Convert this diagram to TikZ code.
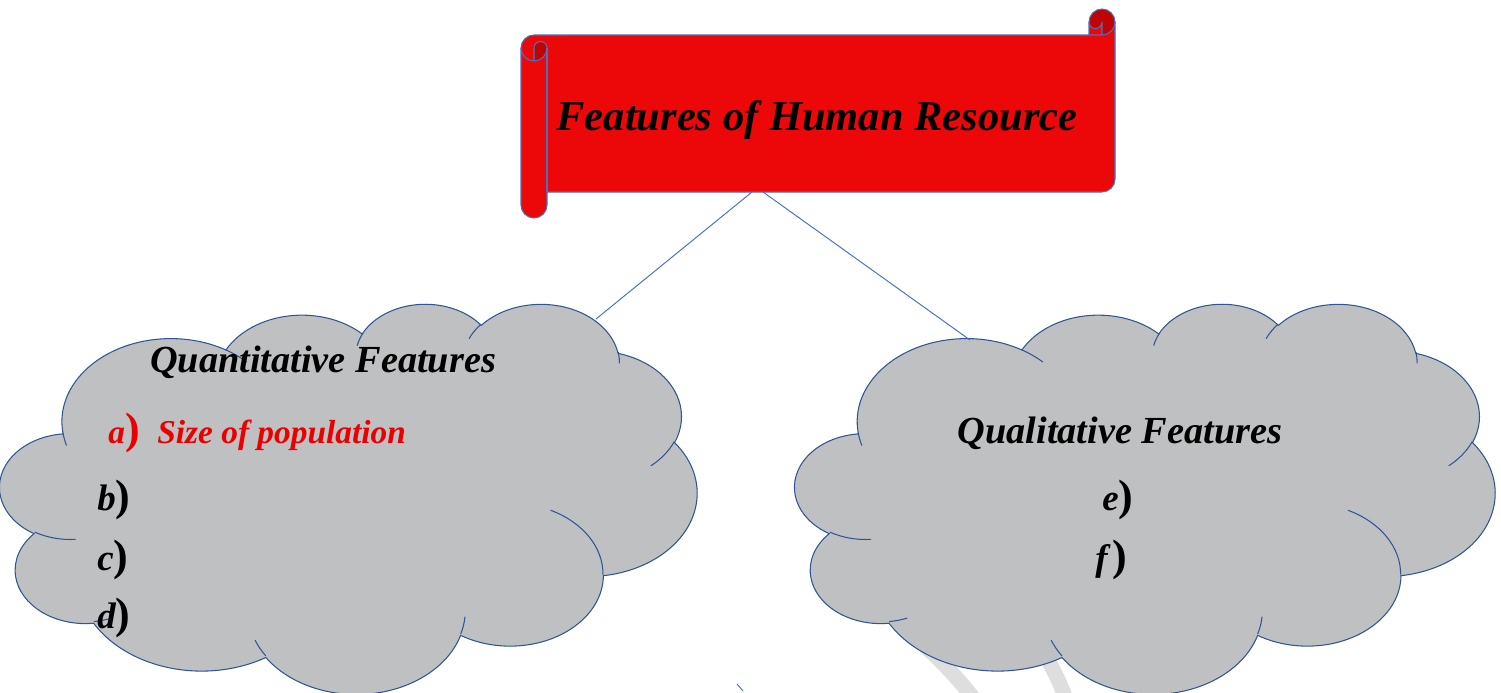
\documentclass[tikz,border=0pt]{standalone}
\usepackage{fontspec}
\setmainfont{Liberation Serif}
\usetikzlibrary{calc}
\definecolor{scrollred}{RGB}{236,8,8}
\definecolor{curlred}{RGB}{192,4,4}
\definecolor{edgeblue}{RGB}{68,114,196}
\definecolor{cloudblue}{RGB}{47,85,151}
\definecolor{cloudgray}{RGB}{191,192,194}
\definecolor{markgray}{RGB}{222,222,222}
\definecolor{itemred}{RGB}{235,0,0}
\tikzset{
>=latex,
scroll/.style={fill=scrollred},
curl/.style={fill=curlred},
rim/.style={draw=edgeblue, line width=0.6pt},
puffs/.style={draw=cloudblue, line width=0.6pt, fill=cloudgray},
puffrim/.style={draw=cloudblue, line width=0.6pt},
link/.style={draw=edgeblue, line width=0.55pt},
watermark/.style={draw=markgray, line width=0.3cm},
title/.style={font=\fontsize{24.2}{29}\selectfont\bfseries\itshape, inner sep=0pt, anchor=base},
heading/.style={font=\fontsize{21.8}{26}\selectfont\bfseries\itshape, inner sep=0pt, anchor=base},
item/.style={font=\fontsize{21}{25}\selectfont\bfseries\itshape, inner sep=0pt, anchor=base west}
}
\newcommand\bigparen{{\fontsize{25}{30}\selectfont\upshape)}}
\newcommand\puff[4]{arc[x radius=#1, y radius=#2,
  start angle={atan2(#1*sin(#3),#2*cos(#3))},
  delta angle={mod(atan2(#1*sin(#3+#4),#2*cos(#3+#4))-atan2(#1*sin(#3),#2*cos(#3))+720,360)}]}
\newcommand\cloudbody{
 \filldraw[puffs] (3.9,14.37) \puff{6.753}{9.19}{-190.4875}{123.7805}
  \puff{5.333}{7.267}{-144.1024}{89.9452} \puff{4.365}{5.945}{-145.8079}{99.723}
  \puff{4.857}{6.595}{-130.9861}{117.2417} \puff{5.333}{7.273}{-78.7089}{109.0269}
  \puff{6.775}{9.22}{-46.2673}{130.269} \puff{5.785}{7.867}{0.625}{114.0333}
  \puff{6.752}{9.215}{22.4516}{115.1726} \puff{7.72}{10.543}{66.2426}{75.711}
  \puff{4.36}{5.918}{-274.9421}{146.7356} \puff{4.345}{5.945}{-246.8285}{152.5189} -- cycle;
 \draw[puffrim] (4.693,26.177) \puff{4.345}{5.945}{86.742}{26.4295}
  (6.928,34.899) \puff{4.36}{5.918}{73.6105}{11.4475}
  (16.478,39.09) \puff{6.752}{9.215}{137.6242}{14.0811}
  (28.827,34.751) \puff{6.752}{9.215}{6.4533}{15.9984}
  (34.129,22.954) \puff{5.785}{7.867}{-70.2924}{70.9174}
  (41.798,15.354) \puff{5.333}{7.273}{30.318}{27.7515}
  (38.324,5.426) \puff{4.857}{6.595}{-13.7443}{14.8589}
  (29.078,3.952) \puff{4.857}{6.595}{-149.1815}{18.1954}
  (22.141,4.72) \puff{4.365}{5.945}{-163.4943}{17.6864}
  (14,5.192) \puff{6.753}{9.19}{-66.707}{12.3194}
  (4.127,15.789) \puff{6.753}{9.19}{157.6544}{11.8582};
}

\begin{document}
\begin{tikzpicture}[x=0.02cm, y=-0.02cm]
 \useasboundingbox (0,0) rectangle (1501,693);
 \draw[watermark] (890,615) .. controls (925,645) and (950,668) .. (975,700);
 \draw[watermark] (1030,630) .. controls (1045,655) and (1058,675) .. (1066,700);
 \begin{scope}[shift={(0,303)}, x=0.3227cm, y=-0.1806cm]
  \cloudbody
 \end{scope}
 \begin{scope}[shift={(795,303)}, x=0.3241cm, y=-0.1806cm]
  \cloudbody
 \end{scope}
 \fill[scroll] (1115,22) arc[start angle=0, delta angle=90, radius=13] -- (1102,22)
  arc[start angle=0, delta angle=180, radius=6.5] -- (1089,35) -- (534,35)
  arc[start angle=270, delta angle=-90, radius=13] -- (521,205)
  arc[start angle=180, delta angle=-180, radius=13] -- (547,192) -- (1102,192)
  arc[start angle=90, delta angle=-90, radius=13] -- cycle;
 \fill[curl] (1102,22) circle[radius=13];
 \fill[scroll] (1089,22) arc[start angle=180, delta angle=-180, radius=6.5] -- (1102,35) -- (1089,35) -- cycle;
 \fill[curl] (534,61) arc[start angle=90, delta angle=-90, radius=13]
  arc[start angle=0, delta angle=-180, radius=6.5] -- cycle;
 \draw[rim] (521,48) arc[start angle=180, delta angle=90, radius=13] -- (1089,35) -- (1089,22)
  arc[start angle=180, delta angle=180, radius=13] -- (1115,179)
  arc[start angle=0, delta angle=90, radius=13] -- (547,192) -- (547,205)
  arc[start angle=0, delta angle=180, radius=13] -- cycle;
 \draw[rim] (1089,35) -- (1102,35) arc[start angle=90, delta angle=-90, radius=13];
 \draw[rim] (1102,35) -- (1102,22) arc[start angle=0, delta angle=180, radius=6.5];
 \draw[rim] (534,61) -- (534,48) arc[start angle=180, delta angle=180, radius=6.5]
  arc[start angle=0, delta angle=180, radius=13];
 \draw[rim] (547,48) -- (547,192);
 \node[title] (head) at (817,130) {Features of Human Resource};
 \coordinate (headL) at (752,192);
 \coordinate (headR) at (763,192);
 \coordinate (quantTop) at (596,319);
 \coordinate (qualTop) at (970,340);
 \coordinate (tickA) at (737,684);
 \coordinate (tickB) at (743,691);
 \draw[link] (headL) -- (quantTop);
 \draw[link] (headR) -- (qualTop);
 \draw[link] (tickA) -- (tickB);
 \node[heading] (quant) at (323,372) {Quantitative Features};
 \node[item, text=itemred, font=\fontsize{19}{23}\selectfont\bfseries\itshape] (ia) at (108,443) {a\bigparen};
 \node[item, text=itemred, font=\fontsize{19}{23}\selectfont\bfseries\itshape] (size) at (157,443) {Size of population};
 \node[item] (ib) at (97,510) {b\bigparen};
 \node[item] (ic) at (97,570) {c\bigparen};
 \node[item] (id) at (97,628) {d\bigparen};
 \node[heading] (qual) at (1120,443) {Qualitative Features};
 \node[item] (ie) at (1102,510) {e\bigparen};
 \node[item] (if) at (1095,570) {f\kern2.5pt\bigparen};
\end{tikzpicture}
\end{document}
